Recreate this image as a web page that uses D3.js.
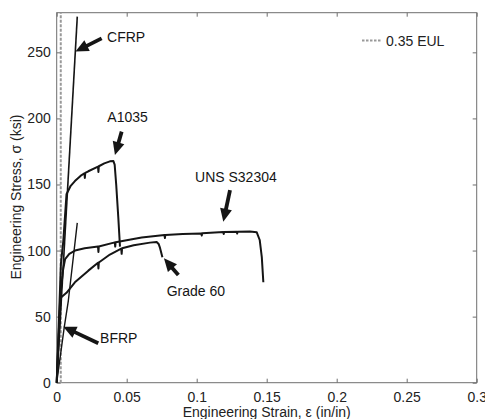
<!DOCTYPE html>
<html>
<head>
<meta charset="utf-8">
<script src="https://cdn.jsdelivr.net/npm/d3@7"></script>
<style>
body{margin:0;background:#fff;}
text{font-family:"Liberation Sans",Arial,sans-serif;}
</style>
</head>
<body>
<svg width="485" height="419"></svg>
<script>
var width=485;
var height=419;
var margin={left:56.7,top:12.7,right:8.3,bottom:36.3};

// strain (in/in) and stress (ksi) for each bar type
var cfrpStrain=[0,0.0147];
var cfrpStress=[0,277];

var bfrpStrain=[0,0.0054,0.0083,0.0147];
var bfrpStress=[0,42,62,121];

var a1035Strain=[0,0.003,0.0047,0.007,0.01,0.013,0.017,0.0198,0.0201,0.0204,0.0226,0.0295,0.0298,0.0301,0.034,0.038,0.0405,0.0414,0.0425,0.044,0.0452];
var a1035Stress=[0,90,107,142.6,149,152.6,156.5,158.5,155,158.7,160,163.5,159.5,163.8,166,167.5,167.7,165,150,125,103];

var unsStrain=[0,0.003,0.0045,0.006,0.009,0.0131,0.02,0.0295,0.0298,0.0301,0.0415,0.0418,0.0421,0.0607,0.077,0.0773,0.0776,0.09,0.1033,0.1036,0.1039,0.119,0.1193,0.1196,0.1286,0.1289,0.1292,0.138,0.1429,0.145,0.1465,0.1476];
var unsStress=[0,70,85,93.6,97.5,100,101.8,103,99,103.1,106.2,103,106.3,109.8,111.7,109.5,111.8,112.6,113,111.3,113.1,114,112.6,114,114.3,112.8,114.3,114.5,113.8,108,95,76];

var g60Strain=[0,0.0025,0.0047,0.007,0.01,0.013,0.0226,0.0295,0.0298,0.0301,0.038,0.0461,0.0464,0.0467,0.055,0.0666,0.0714,0.0728,0.0738,0.0755];
var g60Stress=[0,64,66,68,72,76,84.8,90.8,86.5,91,97,101.4,97.5,101.7,104,106,106.5,105,102,95];

var eulStrain=0.0029;

var xTicks=[0,0.05,0.1,0.15,0.2,0.25,0.3];
var yTicks=[0,50,100,150,200,250];

// annotation arrows: [tail strain, tail stress, tip strain, tip stress]
var labels=['CFRP','A1035','UNS S32304','Grade 60','BFRP'];
var labelStrain=[0.036,0.0506,0.128,0.0786,0.031];
var labelStress=[258,197.5,152,65.8,29.8];
var labelAnchor=['start','middle','middle','start','start'];
var arrows=[[0.0321,260.6,0.0134,250.6],
            [0.0464,190,0.0416,172.3],
            [0.1238,145.8,0.119,121.8],
            [0.0869,81.5,0.0766,94.1],
            [0.0297,29.8,0.0047,42.4]];

var svg=d3.select('svg');

var xScale=d3.scaleLinear()
			.domain([0,0.3])
			.range([margin.left,width-margin.right]);
var yScale=d3.scaleLinear()
			.domain([0,280])
			.range([height-margin.bottom,margin.top]);

var axisColor='#6e6e6e';

function styleAxis(g){
	g.select('.domain').remove();
	g.selectAll('line').attr('stroke',axisColor);
	g.selectAll('text').attr('fill','#222').style('font-size','14px');
}

svg.append('g')
	.attr('transform','translate(0,'+(height-margin.bottom)+')')
	.call(d3.axisBottom(xScale).tickValues(xTicks).tickSize(-4).tickPadding(9).tickFormat(d3.format('')))
	.call(styleAxis);

svg.append('g')
	.attr('transform','translate(0,'+margin.top+')')
	.call(d3.axisTop(xScale).tickValues(xTicks).tickSize(-4).tickFormat(''))
	.call(styleAxis);

svg.append('g')
	.attr('transform','translate('+margin.left+',0)')
	.call(d3.axisLeft(yScale).tickValues(yTicks).tickSize(-4).tickPadding(6))
	.call(styleAxis);

svg.append('g')
	.attr('transform','translate('+(width-margin.right)+',0)')
	.call(d3.axisRight(yScale).tickValues(yTicks).tickSize(-4).tickFormat(''))
	.call(styleAxis);

svg.append('rect')
	.attr('x',margin.left)
	.attr('y',margin.top)
	.attr('width',width-margin.left-margin.right)
	.attr('height',height-margin.top-margin.bottom)
	.attr('fill','none')
	.attr('stroke',axisColor)
	.attr('stroke-width',1);

// 0.35 EUL line
svg.append('line')
	.attr('x1',xScale(eulStrain)).attr('x2',xScale(eulStrain))
	.attr('y1',yScale(0)).attr('y2',yScale(280))
	.attr('stroke','#999')
	.attr('stroke-width',2)
	.attr('stroke-dasharray','3,1.5');

var line=d3.line()
	.x(d=>xScale(d[0]))
	.y(d=>yScale(d[1]));

var curves=[
	{x:cfrpStrain,y:cfrpStress,w:1.6},
	{x:bfrpStrain,y:bfrpStress,w:1.4},
	{x:a1035Strain,y:a1035Stress,w:2},
	{x:unsStrain,y:unsStress,w:2},
	{x:g60Strain,y:g60Stress,w:2}
];

curves.forEach(function(c){
	svg.append('path')
		.datum(d3.zip(c.x,c.y))
		.attr('d',line)
		.attr('fill','none')
		.attr('stroke','#151515')
		.attr('stroke-width',c.w)
		.attr('stroke-linejoin','round');
});

// arrows
arrows.forEach(function(a){
	var x0=xScale(a[0]),y0=yScale(a[1]),x1=xScale(a[2]),y1=yScale(a[3]);
	var dx=x1-x0,dy=y1-y0,len=Math.sqrt(dx*dx+dy*dy);
	var ux=dx/len,uy=dy/len,px=-uy,py=ux;
	var head=13,hw=6;
	var bx=x1-ux*head,by=y1-uy*head;
	svg.append('line')
		.attr('x1',x0).attr('y1',y0)
		.attr('x2',bx+ux*2).attr('y2',by+uy*2)
		.attr('stroke','#151515')
		.attr('stroke-width',3.8);
	svg.append('path')
		.attr('d','M'+x1+','+y1+'L'+(bx+px*hw)+','+(by+py*hw)+'L'+(bx-px*hw)+','+(by-py*hw)+'Z')
		.attr('fill','#151515');
});

svg.selectAll('.lbl')
	.data(labels)
	.enter()
	.append('text')
	.attr('class','lbl')
	.attr('x',(d,i)=>xScale(labelStrain[i]))
	.attr('y',(d,i)=>yScale(labelStress[i]))
	.attr('text-anchor',(d,i)=>labelAnchor[i])
	.style('font-size','14px')
	.attr('fill','#151515')
	.text(d=>d);

// legend
svg.append('line')
	.attr('x1',362).attr('x2',382)
	.attr('y1',40.5).attr('y2',40.5)
	.attr('stroke','#999')
	.attr('stroke-width',2)
	.attr('stroke-dasharray','2.5,1.5');
svg.append('text')
	.attr('x',386)
	.attr('y',45.5)
	.style('font-size','14px')
	.attr('fill','#222')
	.text('0.35 EUL');

svg.append('text')
	.attr('x',(margin.left+width-margin.right)/2)
	.attr('y',height-2)
	.style('text-anchor','middle')
	.style('font-size','14px')
	.attr('fill','#222')
	.text('Engineering Strain, \u03b5 (in/in)');

svg.append('text')
	.attr('transform','rotate(-90)')
	.attr('x',-197)
	.attr('y',21)
	.style('text-anchor','middle')
	.style('font-size','14px')
	.attr('fill','#222')
	.text('Engineering Stress, \u03c3 (ksi)');
</script>
</body>
</html>
